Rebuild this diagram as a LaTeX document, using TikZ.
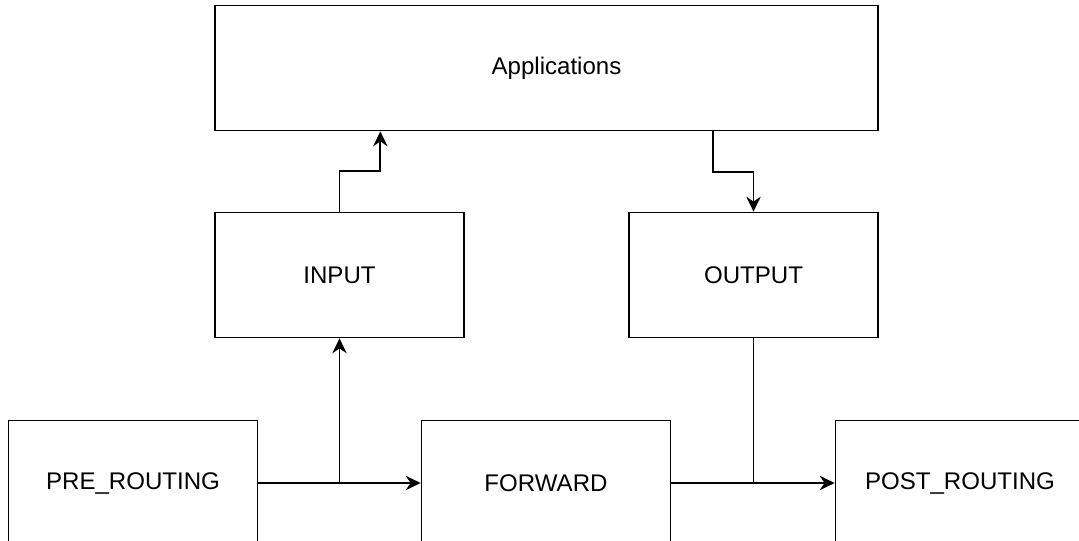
\documentclass[tikz,border=0pt]{standalone}
\usepackage{fontspec}
\setmainfont{Liberation Sans}
\usetikzlibrary{arrows.meta,calc}
\begin{document}
\begin{tikzpicture}[x=0.02cm,y=-0.02cm,->,>={Stealth[length=3mm,width=2.9mm,inset=1mm]},line width=1pt]
   \useasboundingbox (0,0) rectangle (1079,541);
   \clip (0,0) rectangle (1079,541);
   \fontsize{13.7}{16}\selectfont
   \tikzstyle{chain}=[rectangle, draw=black, minimum width=4.98cm, minimum height=2.5cm]
   \node[chain, minimum width=13.26cm] (apps) at (546.5,68) {\hspace*{0.4cm}Applications};
   \node[chain] (input) at (339.5,275) {INPUT};
   \node[chain] (output) at (753.5,275) {OUTPUT};
   \node[chain] (pre) at (133,483) {PRE\_ROUTING};
   \node[chain] (forward) at (546,483) {FORWARD};
   \node[chain] (post) at (960,483) {POST\_ROUTING};
   \coordinate (split) at ($(pre.east)!0.5!(forward.west)$);
   \coordinate (join) at (output.south |- forward.east);
   \coordinate (appsin) at ($(apps.south west)!0.25!(apps.south east)$);
   \coordinate (appsout) at ($(apps.south west)!0.75!(apps.south east)$);
   \path (pre) edge (forward);
   \path (forward) edge (post);
   \draw (split) -- (split |- input.south);
   \draw[-] (output) -- (join);
   \draw (input.north) -- ++(0,-41) -| (appsin);
   \draw (appsout) -- ++(0,41) -| (output.north);
\end{tikzpicture}
\end{document}
